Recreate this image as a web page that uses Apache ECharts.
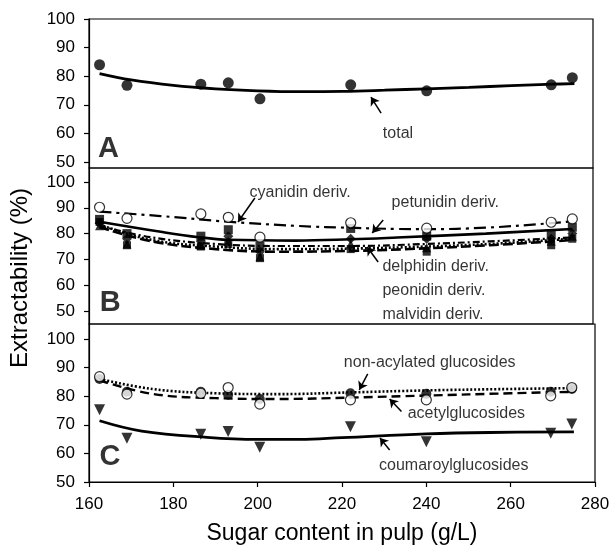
<!DOCTYPE html>
<html>
<head>
<meta charset="utf-8">
<script src="https://cdn.jsdelivr.net/npm/echarts@6/dist/echarts.min.js"></script>
<style>
    html, body { margin: 0; padding: 0; background: #fff; }
    #chart { width: 613px; height: 550px; }
</style>
</head>
<body>
<div id="chart"></div>
<script>
// sugar content of the samples (g/L)
var sugar = [162.5, 169, 186.5, 193, 200.5, 222, 240, 269.5, 274.5];

// panel A - total
var total = [84.0, 76.8, 77.2, 77.7, 72.1, 77.0, 74.9, 77.0, 79.5];
var totalFitX = [162.5, 170, 180, 190, 200, 210, 220, 230, 240, 250, 260, 270, 275];
var totalFitY = [80.9, 78.7, 76.8, 75.6, 74.9, 74.6, 74.7, 75.1, 75.6, 76.1, 76.7, 77.2, 77.4];

// panel B - anthocyanidin derivatives
var cyanidin = [90.2, 85.9, 87.6, 86.3, 78.6, 84.2, 82.1, 84.4, 85.7];
var petunidin = [85.5, 80.0, 79.0, 81.5, 75.0, 82.0, 79.0, 80.0, 82.5];
var delphinidin = [84.0, 78.0, 77.0, 79.0, 73.0, 78.0, 78.0, 78.0, 80.0];
var peonidin = [83.0, 76.0, 75.5, 77.0, 71.0, 76.0, 74.5, 77.0, 79.0];
var malvidin = [84.5, 75.5, 75.0, 76.0, 70.5, 74.0, 73.0, 75.5, 78.0];
var cyanFitX = [162.5, 177, 193, 209, 223, 233, 240, 254, 268.5, 274.5];
var cyanFitY = [88.5, 86.8, 84.6, 83.0, 82.2, 81.8, 81.7, 82.3, 83.9, 84.8];
var petFitX = [162.5, 177, 186, 193, 209, 222, 233, 254, 274.5];
var petFitY = [84.6, 80.7, 78.6, 77.6, 77.3, 77.8, 78.5, 80.0, 81.8];
var lowFitX = [162.5, 175, 190, 205, 222, 240, 255, 274.5];
var delFitY = [82.5, 77.0, 74.0, 73.0, 73.3, 74.3, 75.5, 77.5];
var peoFitY = [83.5, 77.5, 75.0, 74.0, 74.2, 75.0, 76.0, 78.0];
var malFitY = [83.0, 78.5, 76.0, 75.2, 75.2, 76.0, 77.0, 78.5];

// panel C - glucosides
var nonAcyl = [86.8, 80.7, 81.0, 83.0, 77.2, 78.7, 78.7, 80.1, 83.0];
var acetyl = [86.0, 81.5, 81.5, 80.5, 79.0, 81.0, 80.8, 81.5, 82.5];
var coumaroyl = [75.2, 65.3, 66.7, 67.6, 62.1, 69.3, 64.1, 67.0, 70.3];
var glucFitX = [162.5, 175, 190, 205, 222, 240, 260, 275];
var nonAcylFitY = [86.0, 82.5, 81.0, 80.7, 81.3, 82.0, 82.5, 82.8];
var acetylFitY = [85.5, 80.8, 79.3, 79.0, 79.5, 80.2, 81.0, 81.5];
var coumFitX = [162.5, 172.5, 188, 200, 210, 220, 240, 255, 275];
var coumFitY = [71.4, 67.8, 65.6, 64.9, 64.9, 65.5, 66.8, 67.3, 67.5];

var yTicks = [50, 60, 70, 80, 90, 100];

var FONT = "'Liberation Sans', Arial, Helvetica, sans-serif";

function zip(xs, ys) {
    return xs.map(function (x, i) { return [x, ys[i]]; });
}

function yAxis(idx, min, max) {
    return {
        gridIndex: idx, type: 'value', min: min, max: max,
        splitLine: { show: false },
        axisLine: { show: true, lineStyle: { color: '#000', width: 1.2 } },
        axisTick: { show: true, inside: false, length: 5, customValues: yTicks, lineStyle: { color: '#000', width: 1.2 } },
        axisLabel: { customValues: yTicks, color: '#000', fontSize: 17, fontFamily: FONT, margin: 14 }
    };
}

function hiddenX(idx, max) {
    return { gridIndex: idx, type: 'value', min: 160, max: max, show: false, splitLine: { show: false } };
}

function pts(idx, name, ys, symbol, size, filled, rotate) {
    return {
        name: name, type: 'scatter', xAxisIndex: idx, yAxisIndex: idx,
        data: zip(sugar, ys), symbol: symbol, symbolSize: size, symbolRotate: rotate || 0,
        itemStyle: filled ? { color: '#000' } : { color: '#fff', borderColor: '#000', borderWidth: 1.2 },
        z: 5
    };
}

function fit(idx, xs, ys, type, width) {
    return {
        type: 'line', xAxisIndex: idx, yAxisIndex: idx, data: zip(xs, ys),
        smooth: 0.4, showSymbol: false, symbol: 'none',
        lineStyle: { color: '#000', width: width || 2.5, type: type || 'solid' },
        z: 3
    };
}

// text + arrow annotation, positioned in data coordinates
function note(idx, text, at, pos, arrow, style) {
    var s = {
        type: 'scatter', xAxisIndex: idx, yAxisIndex: idx, silent: true,
        symbolSize: 1, itemStyle: { color: 'rgba(0,0,0,0)' },
        data: [{
            value: at,
            label: Object.assign({
                show: true, formatter: text, position: pos || 'inside', distance: 0,
                color: '#000', fontSize: 16, fontFamily: FONT, lineHeight: 24
            }, style || {})
        }],
        z: 6
    };
    if (arrow) {
        s.markLine = {
            silent: true, symbol: ['none', 'arrow'], symbolSize: 8, animation: false,
            label: { show: false },
            lineStyle: { color: '#000', width: 1.5, type: 'solid' },
            data: [[{ coord: arrow[0] }, { coord: arrow[1] }]]
        };
    }
    return s;
}

var letter = { fontSize: 29, fontWeight: 'bold', fontFamily: "'Liberation Sans Narrow', 'Liberation Sans', Arial, sans-serif" };

var chart = echarts.init(document.getElementById('chart'));
chart.setOption({
    animation: false,
    backgroundColor: '#fff',
    grid: [
        { left: 89, top: 19, width: 504, height: 149, show: true, borderColor: '#000', borderWidth: 1.2 },
        { left: 89, top: 168, width: 504, height: 156, show: true, borderColor: '#000', borderWidth: 1.2 },
        { left: 89, top: 324, width: 506, height: 158, show: true, borderColor: '#000', borderWidth: 1.2 }
    ],
    xAxis: [
        hiddenX(0, 279.4),
        hiddenX(1, 279.4),
        {
            gridIndex: 2, type: 'value', min: 160, max: 280, interval: 20,
            splitLine: { show: false },
            axisLine: { show: true, lineStyle: { color: '#000', width: 1.2 } },
            axisTick: { show: true, inside: false, length: 5, lineStyle: { color: '#000', width: 1.2 } },
            axisLabel: { color: '#000', fontSize: 17, fontFamily: FONT, margin: 14 },
            name: 'Sugar content in pulp (g/L)', nameLocation: 'middle', nameGap: 40,
            nameTextStyle: { color: '#000', fontSize: 23, fontFamily: FONT }
        }
    ],
    yAxis: [
        yAxis(0, 47.9, 100),
        yAxis(1, 45.0, 105.4),
        yAxis(2, 50, 105.2)
    ],
    graphic: [{
        type: 'text', x: 20, y: 278, rotation: Math.PI / 2,
        style: { text: 'Extractability (%)', fill: '#000', fontSize: 24, fontFamily: FONT, align: 'center', verticalAlign: 'middle' }
    }],
    series: [
        // A
        fit(0, totalFitX, totalFitY, 'solid', 2.8),
        pts(0, 'total', total, 'circle', 11, true),
        note(0, 'total', [233.2, 60.1], 'inside', [[229.2, 67.1], [226.8, 72.7]]),
        note(0, 'A', [164.6, 54.5], 'inside', null, letter),

        // B
        fit(1, cyanFitX, cyanFitY, [12, 5, 3, 5], 2.2),
        fit(1, petFitX, petFitY, 'solid', 2.6),
        fit(1, lowFitX, delFitY, [10, 4], 2.6),
        fit(1, lowFitX, peoFitY, [2, 2], 2.6),
        fit(1, lowFitX, malFitY, [7, 3, 2, 3], 2.2),
        pts(1, 'malvidin', malvidin, 'rect', 8, true),
        pts(1, 'peonidin', peonidin, 'triangle', 9, true),
        pts(1, 'delphinidin', delphinidin, 'diamond', 10, true),
        pts(1, 'petunidin', petunidin, 'rect', 9, true),
        pts(1, 'cyanidin', cyanidin, 'circle', 10, false),
        note(1, 'cyanidin deriv.', [210, 95.7], 'inside', [[199.3, 93.8], [195.3, 84.5]]),
        note(1, 'petunidin deriv.', [244.4, 91.9], 'inside', [[229.7, 85.3], [227.1, 80.2]]),
        note(1, 'delphidin deriv.\npeonidin deriv.\nmalvidin deriv.', [229.4, 58.0], 'right', [[228.5, 69.0], [225.9, 74.8]]),
        note(1, 'B', [165, 53.3], 'inside', null, letter),

        // C
        fit(2, glucFitX, acetylFitY, [9, 5], 2.4),
        fit(2, glucFitX, nonAcylFitY, [2, 2], 2.6),
        fit(2, coumFitX, coumFitY, 'solid', 2.8),
        pts(2, 'acetylglucosides', acetyl, 'circle', 10, true),
        pts(2, 'non-acylated glucosides', nonAcyl, 'circle', 10, false),
        pts(2, 'coumaroylglucosides', coumaroyl, 'triangle', 11, true, 180),
        note(2, 'non-acylated glucosides', [240.8, 91.6], 'inside', [[226.1, 87.8], [224.1, 82.2]]),
        note(2, 'acetylglucosides', [249.5, 74.0], 'inside', [[234.1, 74.6], [231.3, 79.0]]),
        note(2, 'coumaroylglucosides', [246.5, 55.9], 'inside', [[231.3, 61.2], [229.0, 65.4]]),
        note(2, 'C', [165, 58.6], 'inside', null, letter)
    ]
});
</script>
</body>
</html>
